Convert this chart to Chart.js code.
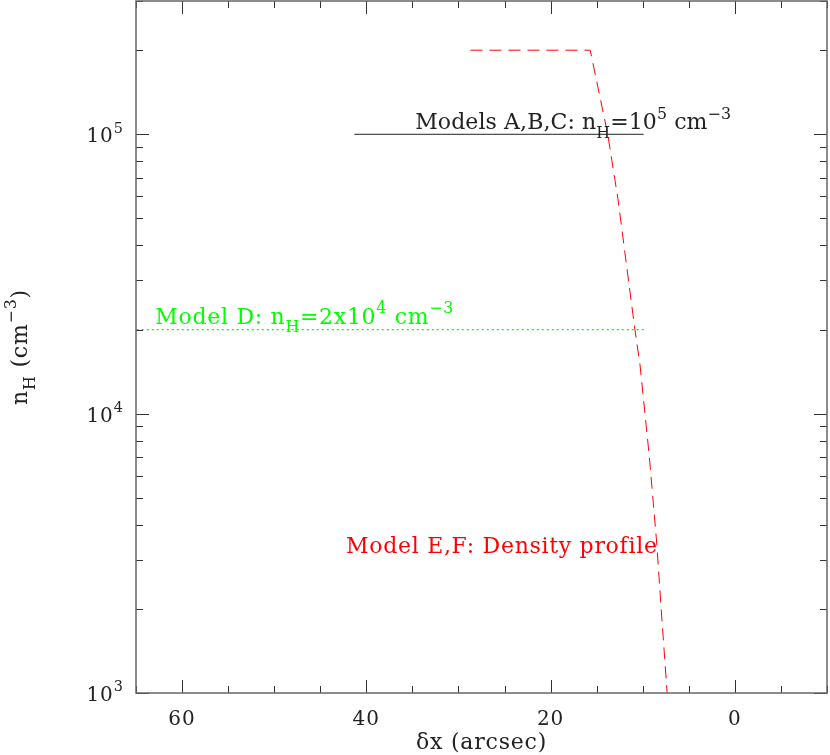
<!DOCTYPE html>
<html>
<head>
<meta charset="utf-8">
<script src="https://cdn.jsdelivr.net/npm/chart.js@4.4.0/dist/chart.umd.min.js"></script>
<style>
  html, body { margin: 0; padding: 0; background: #fff; }
  #wrap { width: 830px; height: 755px; }
</style>
</head>
<body>
<div id="wrap"><canvas id="densityChart" width="830" height="755"></canvas></div>
<script>
// offsets (arcsec) and densities (cm^-3)
const modelABC_x = [41.3, 9.9];
const modelABC_n = [1e5, 1e5];

const modelD_x = [66, 9.8];
const modelD_n = [2e4, 2e4];

const modelEF_x = [28.7, 15.7, 13.8, 12.7, 10.85, 10.3, 9.3, 8.5, 7.9, 7.35];
const modelEF_n = [2e5, 2e5, 1e5, 5.9e4, 2e4, 1.5e4, 7.1e3, 3.5e3, 1.8e3, 1e3];

// axis ticks
const xTickValues = [60, 40, 20, 0];
const xTickLabels = ['60', '40', '20', '0'];
const yTickValues = [1e3, 1e4, 1e5];
const yTickExponents = ['3', '4', '5'];

const FONT = '"DejaVu Serif", "Liberation Serif", serif';

function toPoints(xs, ys) {
  return xs.map((x, i) => ({ x: x, y: ys[i] }));
}

// draws text with sub/superscripts, parts = [{t, s}] with s = 'sub' | 'sup' | undefined
function drawRich(ctx, parts, x, y, size, color, align, spacing) {
  const small = size * 0.72;
  ctx.letterSpacing = (spacing || 0) + 'px';
  let total = 0;
  parts.forEach(p => {
    ctx.font = (p.s ? small : size) + 'px ' + FONT;
    p.w = ctx.measureText(p.t).width;
    total += p.w;
  });
  let cx = align === 'center' ? x - total / 2 : (align === 'right' ? x - total : x);
  ctx.fillStyle = color;
  ctx.textAlign = 'left';
  ctx.textBaseline = 'alphabetic';
  parts.forEach(p => {
    let dy = 0;
    if (p.s === 'sub') dy = size * 0.38;
    if (p.s === 'sup') dy = -size * 0.48;
    ctx.font = (p.s ? small : size) + 'px ' + FONT;
    ctx.fillText(p.t, cx, y + dy);
    cx += p.w;
  });
  ctx.letterSpacing = '0px';
}

// text labels anchored to data coordinates
const notes = [
  { x: 34.7, y: 1e5, dy: -5, color: '#222', spacing: 0.1,
    parts: [{ t: 'Models A,B,C: n' }, { t: 'H', s: 'sub' }, { t: '=10' }, { t: '5', s: 'sup' }, { t: ' cm' }, { t: '\u22123', s: 'sup' }] },
  { x: 62.9, y: 2e4, dy: -6, color: '#00ff00', spacing: 0.7,
    parts: [{ t: 'Model D: n' }, { t: 'H', s: 'sub' }, { t: '=2x10' }, { t: '4', s: 'sup' }, { t: ' cm' }, { t: '\u22123', s: 'sup' }] },
  { x: 42.2, y: 3162, dy: 0, color: '#ff0000', spacing: 0.7,
    parts: [{ t: 'Model E,F: Density profile' }] }
];

const framePlugin = {
  id: 'framePlugin',
  afterDatasetsDraw(chart) {
    const ctx = chart.ctx;
    const xs = chart.scales.x, ys = chart.scales.y;
    ctx.save();
    notes.forEach(n => {
      drawRich(ctx, n.parts, xs.getPixelForValue(n.x), ys.getPixelForValue(n.y) + n.dy, 22, n.color, 'left', n.spacing);
    });
    ctx.restore();
  },
  afterDraw(chart) {
    const ctx = chart.ctx;
    const a = chart.chartArea;
    const xs = chart.scales.x, ys = chart.scales.y;
    ctx.save();

    // ticks, inward on all four sides
    ctx.strokeStyle = '#333';
    ctx.lineWidth = 1;
    ctx.beginPath();
    for (let v = -10; v <= 65; v += 5) {
      const px = Math.round(xs.getPixelForValue(v)) + 0.5;
      const len = v % 20 === 0 ? 13 : 7;
      ctx.moveTo(px, a.bottom); ctx.lineTo(px, a.bottom - len);
      ctx.moveTo(px, a.top); ctx.lineTo(px, a.top + len);
    }
    for (let d = 1e3; d < 1e6; d *= 10) {
      for (let m = 1; m <= 9; m++) {
        const v = d * m;
        if (v > ys.max) break;
        const py = Math.round(ys.getPixelForValue(v)) + 0.5;
        const len = m === 1 ? 13 : 7;
        ctx.moveTo(a.left, py); ctx.lineTo(a.left + len, py);
        ctx.moveTo(a.right, py); ctx.lineTo(a.right - len, py);
      }
    }
    ctx.stroke();

    // frame
    ctx.strokeStyle = '#666';
    ctx.lineWidth = 1.5;
    ctx.strokeRect(a.left, a.top, a.right - a.left, a.bottom - a.top);

    // tick labels
    xTickValues.forEach((v, i) => {
      drawRich(ctx, [{ t: xTickLabels[i] }], xs.getPixelForValue(v), 725, 20, '#222', 'center', 1);
    });
    yTickValues.forEach((v, i) => {
      drawRich(ctx, [{ t: '10' }, { t: yTickExponents[i], s: 'sup' }],
        124, ys.getPixelForValue(v) + 8, 20, '#222', 'right', 1);
    });

    // axis titles
    drawRich(ctx, [{ t: '\u03b4x (arcsec)' }], (a.left + a.right) / 2, 749, 22, '#222', 'center', 0.8);
    ctx.translate(27, (a.top + a.bottom) / 2);
    ctx.rotate(-Math.PI / 2);
    drawRich(ctx, [{ t: 'n' }, { t: 'H', s: 'sub' }, { t: ' (cm' }, { t: '\u22123', s: 'sup' }, { t: ')' }],
      0, 0, 22, '#222', 'center', 0.8);
    ctx.restore();
  }
};

document.addEventListener('DOMContentLoaded', function() {
  const ctx = document.getElementById('densityChart').getContext('2d');

  new Chart(ctx, {
    type: 'scatter',
    data: {
      datasets: [
        {
          label: 'Models A,B,C',
          data: toPoints(modelABC_x, modelABC_n),
          showLine: true,
          borderColor: '#222',
          borderWidth: 1,
          pointRadius: 0
        },
        {
          label: 'Model D',
          data: toPoints(modelD_x, modelD_n),
          showLine: true,
          borderColor: '#00ff00',
          borderWidth: 1.2,
          borderDash: [2, 3],
          pointRadius: 0
        },
        {
          label: 'Model E,F',
          data: toPoints(modelEF_x, modelEF_n),
          showLine: true,
          borderColor: '#ff0000',
          borderWidth: 1,
          borderDash: [12, 7],
          pointRadius: 0
        }
      ]
    },
    options: {
      responsive: false,
      animation: false,
      layout: {
        padding: { left: 136, right: 3, top: 1, bottom: 62 }
      },
      plugins: {
        legend: { display: false },
        tooltip: { enabled: false }
      },
      scales: {
        x: {
          type: 'linear',
          display: false,
          reverse: true,
          min: -10,
          max: 65
        },
        y: {
          type: 'logarithmic',
          display: false,
          min: 1000,
          max: 3e5
        }
      }
    },
    plugins: [framePlugin]
  });
});
</script>
</body>
</html>
